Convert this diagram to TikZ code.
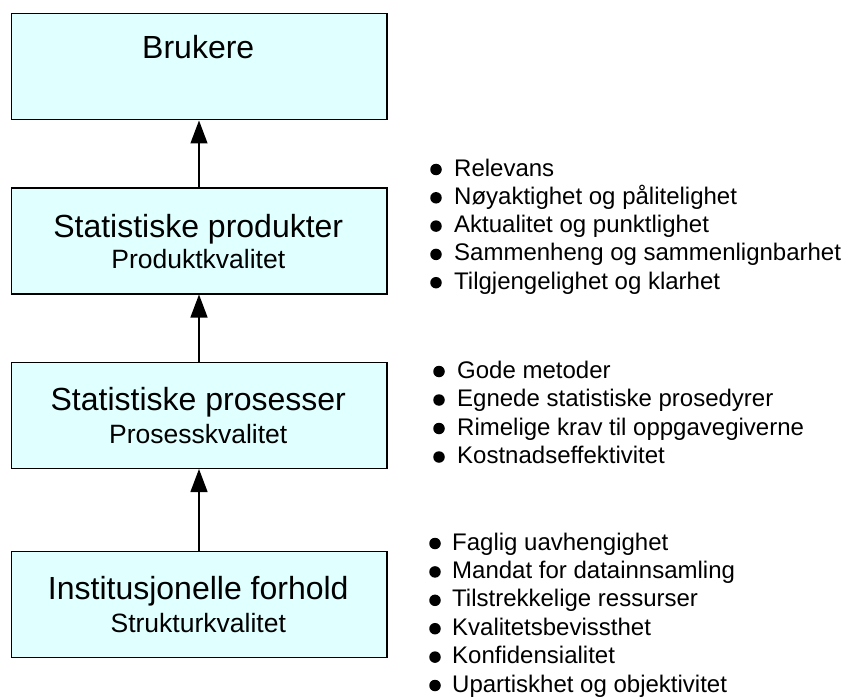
\documentclass[tikz,border=0pt]{standalone}
\usepackage{fontspec}
\setmainfont{Liberation Sans}
\usetikzlibrary{arrows.meta}
\definecolor{boxfill}{RGB}{224,255,255}
\begin{document}
\begin{tikzpicture}[x=1pt,y=-1pt,
  box/.style={draw=black, line width=1.5pt, fill=boxfill, minimum width=375.5pt, minimum height=106pt, anchor=north west, inner sep=0pt},
  title/.style={font=\fontsize{32}{38}\selectfont, anchor=base, inner sep=0pt},
  sub/.style={font=\fontsize{26.5}{30}\selectfont, anchor=base, inner sep=0pt},
  item/.style={font=\fontsize{24}{28}\selectfont, anchor=base west, inner sep=0pt},
  dot/.style={circle, fill=black, inner sep=0pt, minimum size=11.5pt},
  conn/.style={line width=1.3pt, -{Triangle[length=23pt,width=17pt]}}]
\clip (0,0) rectangle (846,698);
% boxes
\node[box] (b1) at (10.5,13) {};
\node[box] (b2) at (10.5,187) {};
\node[box] (b3) at (10.5,361.5) {};
\node[box] (b4) at (10.5,550.5) {};
% box texts
\node[title] (t1) at (198.25,59) {Brukere};
\node[title] (t2) at (198.25,237) {Statistiske produkter};
\node[sub]   (s2) at (198.25,268) {Produktkvalitet};
\node[title] (t3) at (198.25,410) {Statistiske prosesser};
\node[sub]   (s3) at (198.25,443) {Prosesskvalitet};
\node[title] (t4) at (198.25,599) {Institusjonelle forhold};
\node[sub]   (s4) at (198.25,632) {Strukturkvalitet};
% connectors
\draw[conn] (b2.north) -- (b1.south);
\draw[conn] (b3.north) -- (b2.south);
\draw[conn] (b4.north) -- (b3.south);
% group 1
\node[dot] (d11) at (436,169.5) {};
\node[item] (i11) at (454,176) {Relevans};
\node[dot] (d12) at (436,197.8) {};
\node[item] (i12) at (454,204.3) {Nøyaktighet og pålitelighet};
\node[dot] (d13) at (436,226.1) {};
\node[item] (i13) at (454,232.6) {Aktualitet og punktlighet};
\node[dot] (d14) at (436,254.4) {};
\node[item] (i14) at (454,260.9) {Sammenheng og sammenlignbarhet};
\node[dot] (d15) at (436,282.7) {};
\node[item] (i15) at (454,289.2) {Tilgjengelighet og klarhet};
% group 2
\node[dot] (d21) at (439,371.5) {};
\node[item] (i21) at (457,378) {Gode metoder};
\node[dot] (d22) at (439,400) {};
\node[item] (i22) at (457,406.5) {Egnede statistiske prosedyrer};
\node[dot] (d23) at (439,428.5) {};
\node[item] (i23) at (457,435) {Rimelige krav til oppgavegiverne};
\node[dot] (d24) at (439,457) {};
\node[item] (i24) at (457,463.5) {Kostnadseffektivitet};
% group 3
\node[dot] (d31) at (435,543.5) {};
\node[item] (i31) at (452,550) {Faglig uavhengighet};
\node[dot] (d32) at (435,571.9) {};
\node[item] (i32) at (452,578.4) {Mandat for datainnsamling};
\node[dot] (d33) at (435,600.3) {};
\node[item] (i33) at (452,606.8) {Tilstrekkelige ressurser};
\node[dot] (d34) at (435,628.7) {};
\node[item] (i34) at (452,635.2) {Kvalitetsbevissthet};
\node[dot] (d35) at (435,657.1) {};
\node[item] (i35) at (452,663.6) {Konfidensialitet};
\node[dot] (d36) at (435,685.5) {};
\node[item] (i36) at (452,692) {Upartiskhet og objektivitet};
\end{tikzpicture}
\end{document}
